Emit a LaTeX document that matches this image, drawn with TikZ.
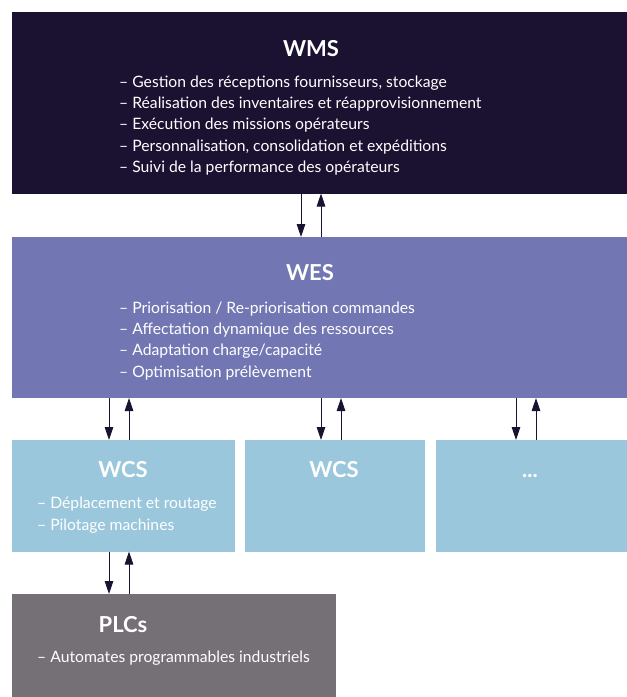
\documentclass[tikz,border=0pt]{standalone}
\usepackage{fontspec}
\setmainfont{Lato}
\usetikzlibrary{arrows.meta}

\definecolor{wmsblue}{HTML}{1B1232}
\definecolor{wesblue}{HTML}{7277B4}
\definecolor{wcsblue}{HTML}{9AC7DC}
\definecolor{plcgray}{HTML}{747075}

\begin{document}
\begin{tikzpicture}[x=1pt,y=-1pt,
    box/.style={inner sep=0pt, outer sep=0pt, anchor=north west},
    title/.style={text=white, inner sep=0pt, anchor=base, font=\bfseries\fontsize{22}{22}\selectfont},
    item/.style={text=white, inner sep=0pt, anchor=base west, font=\fontsize{15.7}{18}\selectfont},
    link/.style={draw=wmsblue, line width=0.8pt, -{Triangle[length=13pt,width=8.5pt]}}]

    \useasboundingbox (0,0) rectangle (627,697);

    % these are the boxes
    \node[box, fill=wmsblue, minimum width=615pt, minimum height=182pt] (wms) at (11.5,11.5) {};
    \node[box, fill=wesblue, minimum width=615pt, minimum height=161pt] (wes) at (11.5,237) {};
    \node[box, fill=wcsblue, minimum width=223.5pt, minimum height=111.5pt] (wcsa) at (11.5,440) {};
    \node[box, fill=wcsblue, minimum width=180pt, minimum height=111.5pt] (wcsb) at (245,440) {};
    \node[box, fill=wcsblue, minimum width=190.5pt, minimum height=111.5pt] (wcsc) at (436,440) {};
    \node[box, fill=plcgray, minimum width=324.5pt, minimum height=103pt] (plc) at (11.5,594) {};

    % titles
    \node[title] (wmsT) at (311,56) {WMS};
    \node[title] (wesT) at (310,280) {WES};
    \node[title] (wcsaT) at (123,477) {WCS};
    \node[title] (wcsbT) at (334,477) {WCS};
    \node[title] (wcscT) at (530,477) {...};
    \node[title] (plcT) at (123,632) {PLCs};

    % bullet lines
    \foreach \t [count=\i] in {{Gestion des réceptions fournisseurs, stockage},
        {Réalisation des inventaires et réapprovisionnement},
        {Exécution des missions opérateurs},
        {Personnalisation, consolidation et expéditions},
        {Suivi de la performance des opérateurs}}
        \node[item] (wms-\i) at (119,87+21.4*\i-21.4) {– \t};
    \foreach \t [count=\i] in {{Priorisation / Re-priorisation commandes},
        {Affectation dynamique des ressources},
        {Adaptation charge/capacité},
        {Optimisation prélèvement}}
        \node[item] (wes-\i) at (119,313+21.4*\i-21.4) {– \t};
    \node[item] (wcsa-1) at (37,508) {– Déplacement et routage};
    \node[item] (wcsa-2) at (37,530) {– Pilotage machines};
    \node[item] (plc-1) at (37,662) {– Automates programmables industriels};

    % x positions of the arrows
    \coordinate (d1) at (301,0);
    \coordinate (u1) at (321,0);
    \coordinate (d2) at (109,0);
    \coordinate (u2) at (129,0);
    \coordinate (d3) at (321,0);
    \coordinate (u3) at (341,0);
    \coordinate (d4) at (516,0);
    \coordinate (u4) at (536,0);

    \draw[link] (wms.south -| d1) -- (wes.north -| d1);
    \draw[link] (wes.north -| u1) -- (wms.south -| u1);

    \draw[link] (wes.south -| d2) -- (wcsa.north -| d2);
    \draw[link] (wcsa.north -| u2) -- (wes.south -| u2);
    \draw[link] (wes.south -| d3) -- (wcsb.north -| d3);
    \draw[link] (wcsb.north -| u3) -- (wes.south -| u3);
    \draw[link] (wes.south -| d4) -- (wcsc.north -| d4);
    \draw[link] (wcsc.north -| u4) -- (wes.south -| u4);

    \draw[link] (wcsa.south -| d2) -- (plc.north -| d2);
    \draw[link] (plc.north -| u2) -- (wcsa.south -| u2);

\end{tikzpicture}
\end{document}
